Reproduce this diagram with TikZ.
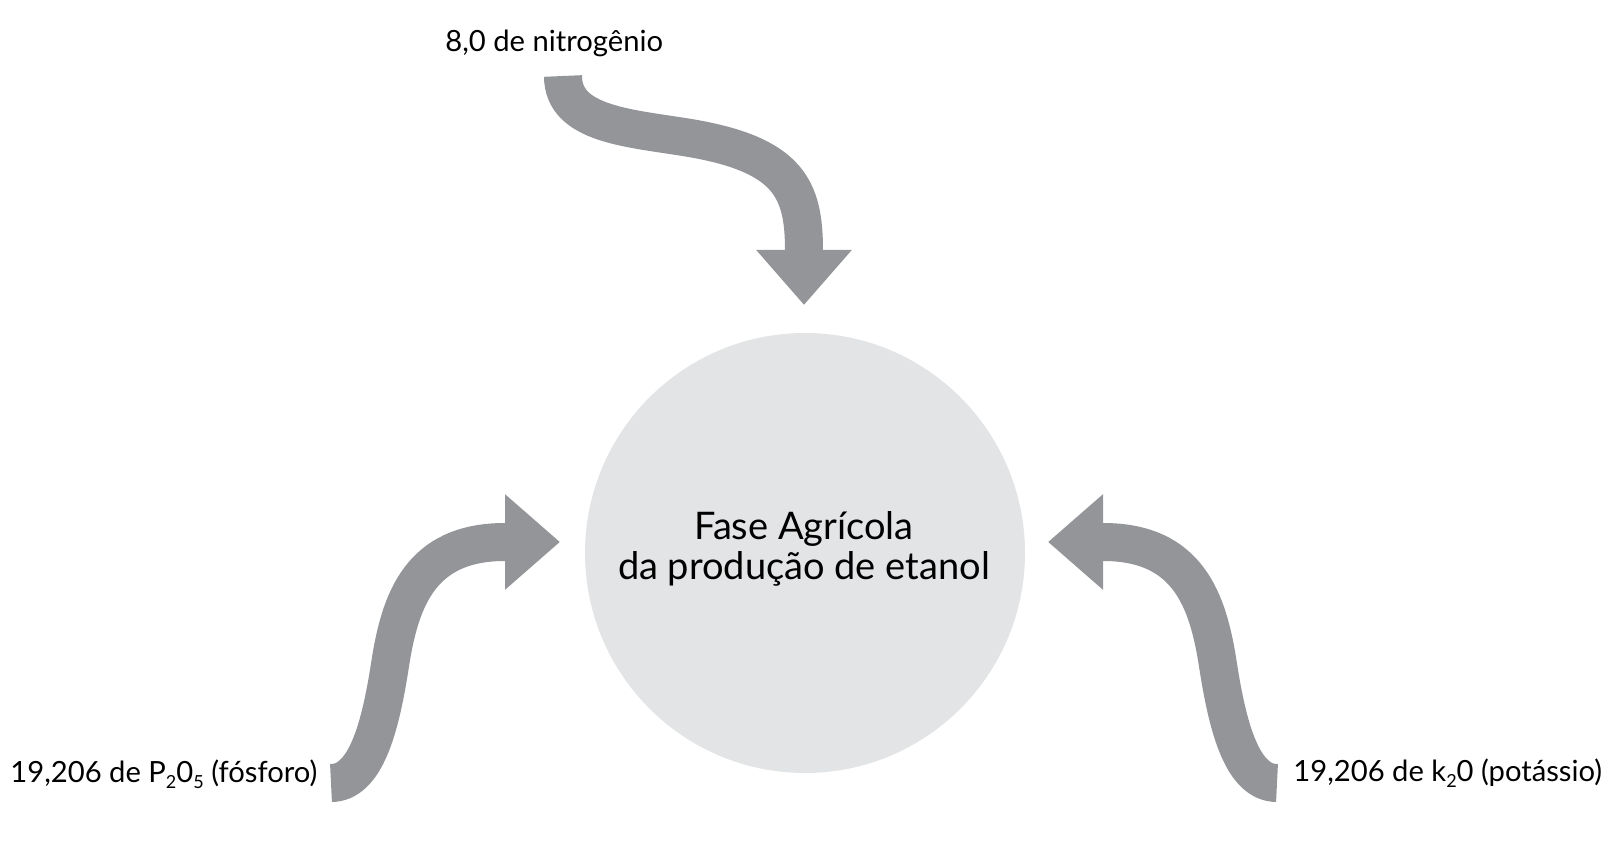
\documentclass[tikz,border=0pt]{standalone}
\usepackage{fontspec}
\setmainfont{Lato}
\usetikzlibrary{arrows.meta}
\definecolor{arrowgray}{HTML}{939598}
\definecolor{circlegray}{HTML}{E3E4E5}
\tikzset{
  shaft/.style={draw=arrowgray, line width=19pt, line cap=butt,
    -{Triangle[length=27.5pt,width=46pt]}},
  label/.style={anchor=base west, inner sep=0pt, font=\fontsize{14.6}{18}\selectfont},
}
\newcommand{\lowsub}[1]{\raisebox{-0.35ex}{\fontsize{9}{10}\selectfont #1}}
\begin{document}
\begin{tikzpicture}[x=0.5pt,y=-0.5pt]
\useasboundingbox (0,0) rectangle (1614,844);
\node[circle, fill=circlegray, minimum size=220pt, inner sep=0pt] (fase) at (805,553) {};
\node[align=center, inner sep=0pt, anchor=base, font=\fontsize{19}{20}\selectfont] (fasetxt) at (804,580)
      {Fase Agrícola\\da produção de etanol};
\node[label] (nitro) at (445,52) {8,0 de nitrogênio};
\node[label] (fosf) at (10,783) {19,206 de P\lowsub{2}0\lowsub{5} (fósforo)};
\node[label] (potas) at (1293,782) {19,206 de k\lowsub{2}0 (potássio)};
\coordinate (nT) at (563,76);
\coordinate (nB) at (804,251);
\coordinate (nH) at (804,305);
\coordinate (fT) at (331,783);
\coordinate (fB) at (505,542);
\coordinate (fH) at (560,542);
\coordinate (pT) at (1277,783);
\coordinate (pB) at (1103,542);
\coordinate (pH) at (1048,542);
\draw[shaft] (nT) .. controls (563,125) and (630,128) .. (690,138)
  .. controls (790,155) and (804,190) .. (nB) -- (nH);
\draw[shaft] (fT) .. controls (365,783) and (380,730) .. (390,665)
  .. controls (400,600) and (420,542) .. (fB) -- (fH);
\draw[shaft] (pT) .. controls (1243,783) and (1228,730) .. (1218,665)
  .. controls (1208,600) and (1188,542) .. (pB) -- (pH);
\end{tikzpicture}
\end{document}
